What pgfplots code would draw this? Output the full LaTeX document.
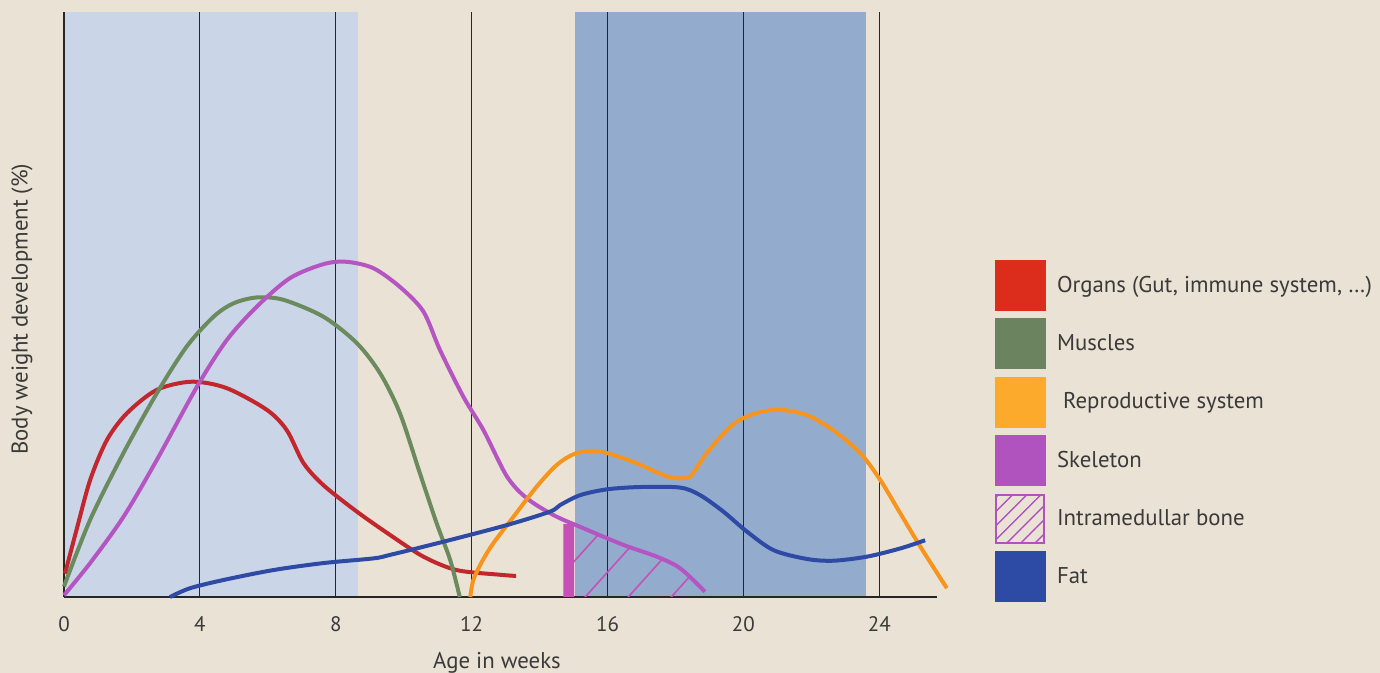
\documentclass[border=0pt]{standalone}
\usepackage{fontspec}
\setmainfont{PT Sans}
\usepackage{pgfplots}
\pgfplotsset{compat=1.18}
\usetikzlibrary{patterns.meta}
\definecolor{bgc}{HTML}{EAE3D5}
\definecolor{lband}{HTML}{CAD6E8}
\definecolor{dband}{HTML}{93ACCE}
\definecolor{cred}{HTML}{C1272D}
\definecolor{cgreen}{HTML}{6B8A5E}
\definecolor{corange}{HTML}{F7941D}
\definecolor{cpurple}{HTML}{B455C2}
\definecolor{cblue}{HTML}{2E4AA5}
\definecolor{cbar}{HTML}{C64FB8}
\definecolor{lred}{HTML}{DC2C1B}
\definecolor{lgreen}{HTML}{6C8360}
\definecolor{lorange}{HTML}{FBAA2C}
\definecolor{lpurple}{HTML}{B153BE}
\definecolor{lblue}{HTML}{2D4BA5}
\definecolor{txt}{HTML}{3A3A3A}
\begin{document}
\begin{tikzpicture}
\begin{axis}[
  at={(0,0)}, anchor=south west,
  scale only axis, width=436.5pt, height=292.5pt,
  xmin=0, xmax=25.7, ymin=0, ymax=100,
  clip=false, set layers,
  axis x line=bottom, axis y line=left,
  axis line style={line width=1pt, -, black!85},
  xtick={0,4,8,12,16,20,24}, ytick=\empty,
  major tick length=0pt,
  xmajorgrids, grid style={line width=0.55pt, black!85},
  /pgf/number format/assume math mode=true,
  xticklabel style={font=\fontsize{10.5}{12}\selectfont, text=txt, yshift=-6.4pt},
  xlabel={Age in weeks},
  xlabel style={at={(rel axis cs:0.496,0)}, anchor=center, inner sep=0pt, yshift=-32.8pt, font=\fontsize{11.4}{13}\selectfont, text=txt},
  ylabel={Body weight development (\%)},
  ylabel style={at={(rel axis cs:0,0.492)}, anchor=center, inner sep=0pt, yshift=21pt, font=\fontsize{11.4}{13}\selectfont, text=txt},
  legend image code/.code={\draw[line width=0pt, #1] (0pt,-12.5pt) rectangle (25pt,12.5pt);},
  legend style={at={(rel axis cs:1.066,0.576)}, anchor=north west, draw=none, fill=none,
    inner sep=0pt, row sep=4.2pt, column sep=6pt,
    nodes={inner sep=0pt, text=txt, font=\fontsize{11.4}{13}\selectfont}},
  legend cell align=left,
]
% page background and bands
\begin{pgfonlayer}{axis background}
\fill[bgc] (rel axis cs:-0.073310,-0.129915) rectangle (rel axis cs:1.507446,1.020513);
\addplot[forget plot, fill=lband, draw=none] coordinates {(0,0)(8.65,0)(8.65,100)(0,100)} -- cycle;
\addplot[forget plot, fill=dband, draw=none] coordinates {(15.05,0)(23.62,0)(23.62,100)(15.05,100)} -- cycle;
\end{pgfonlayer}
% legend
\addlegendimage{fill=lred, draw=lred}
\addlegendentry{Organs (Gut, immune system, \dots)}
\addlegendimage{fill=lgreen, draw=lgreen}
\addlegendentry{Muscles}
\addlegendimage{fill=lorange, draw=lorange}
\addlegendentry{\ Reproductive system}
\addlegendimage{fill=lpurple, draw=lpurple}
\addlegendentry{Skeleton}
\addlegendimage{legend image code/.code={\draw[line width=1pt, draw=lpurple, pattern={Lines[angle=45,distance=5pt,line width=0.7pt]}, pattern color=lpurple] (0.5pt,-12pt) rectangle (24.5pt,12pt);}}
\addlegendentry{Intramedullar bone}
\addlegendimage{fill=lblue, draw=lblue}
\addlegendentry{Fat}
% intramedullar bone hatch
\addplot[forget plot, draw=none, smooth, pattern={Lines[angle=48,distance=16pt,line width=0.8pt]}, pattern color=cbar]
 coordinates {(15.0,12.4)(15.19,12)(16.47,8.9)(17.45,6.9)(18.14,4.9)(18.87,0.9)} \closedcycle;
\addplot[forget plot, fill=cbar, draw=none] coordinates {(14.7,0)(14.7,12.5)(15.02,12.4)(15.02,0)} -- cycle;
% curves
\addplot[forget plot, smooth, cred, line width=2pt] coordinates {(0.03,4)(0.37,11.5)(0.77,20)(1.26,26.8)(1.85,31.4)(2.73,35.4)(3.76,36.8)(4.79,35.7)(5.97,32)(6.56,28.5)(7.05,22.9)(7.64,19.1)(8.62,14.6)(9.6,10.6)(10.58,6.9)(11.56,4.6)(12.84,3.8)(13.31,3.6)};
\addplot[forget plot, smooth, cgreen, line width=2pt] coordinates {(0,1.8)(0.77,13.2)(1.75,24.6)(2.73,34.8)(3.61,42.8)(4.4,47.9)(4.99,50.2)(5.67,51.2)(6.46,50.8)(7.64,47.9)(8.62,43.4)(9.31,38.2)(9.89,31.4)(10.48,21.1)(10.97,12.6)(11.37,6.3)(11.65,0)};
\addplot[forget plot, smooth, cpurple, line width=2pt] coordinates {(0,0.3)(0.77,5.8)(1.75,13.7)(2.73,23.4)(3.91,35.9)(4.79,43.9)(5.67,49.6)(6.65,54.5)(7.64,56.9)(8.32,57.3)(9.11,56.2)(9.89,53)(10.58,48.8)(11.07,42.2)(11.76,34.2)(12.35,28.5)(13.04,20.6)(13.62,16.9)(14.41,14)(15.19,12)(16.47,8.9)(17.45,6.9)(18.14,4.9)(18.87,0.9)};
\addplot[forget plot, smooth, corange, line width=2pt] coordinates {(11.96,0)(12.05,2.9)(12.3,6)(12.64,9.2)(13.23,13.7)(13.92,18.9)(14.51,22.6)(15,24.4)(15.49,25)(15.98,24.6)(16.76,23.1)(17.75,20.6)(18.24,20.3)(18.48,20.9)(18.92,24.6)(19.51,28.5)(19.9,30.3)(20.49,31.6)(21.08,32)(21.87,31.1)(22.65,28.5)(23.44,24.6)(24.03,20)(24.62,14.3)(25.21,8.6)(25.99,1.5)};
\addplot[forget plot, smooth, cblue, line width=2pt] coordinates {(3.12,0)(3.71,1.5)(4.69,2.9)(6.16,4.6)(7.64,5.8)(9.11,6.6)(9.6,7.2)(11.07,9.3)(13.04,12.3)(14.31,14.6)(14.6,15.7)(15.19,17.4)(15.98,18.4)(16.96,18.8)(18.14,18.7)(18.73,17.4)(19.41,14.6)(20.1,11.2)(20.89,8)(21.87,6.5)(22.65,6.2)(23.64,6.9)(24.62,8.3)(25.35,9.7)};
\end{axis}
\pgfresetboundingbox
\path (-32pt,-38pt) rectangle (658pt,298.5pt);
\end{tikzpicture}
\end{document}
